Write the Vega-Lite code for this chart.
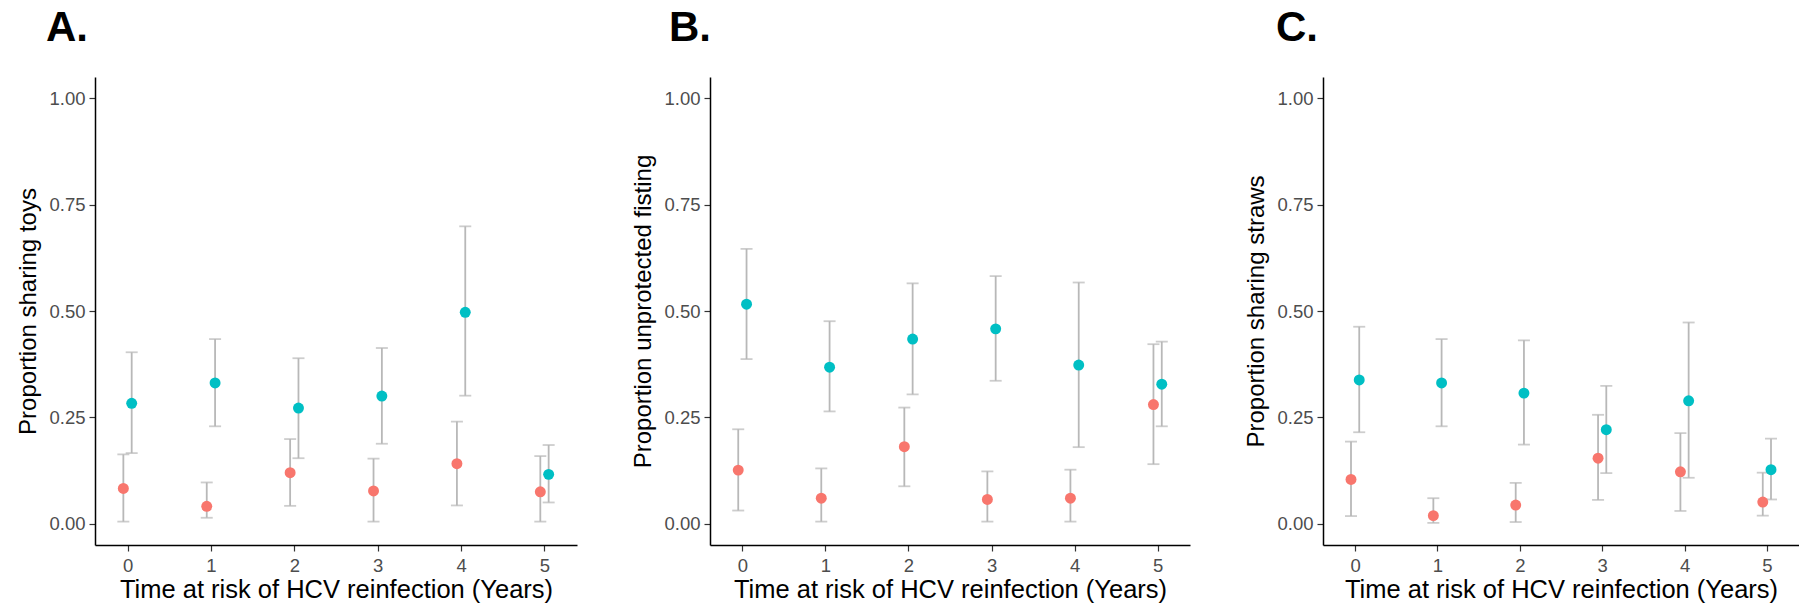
{
  "$schema": "https://vega.github.io/schema/vega-lite/v6.json",
  "background": "white",
  "padding": {"left": 16, "top": 7, "right": 0, "bottom": 0},
  "bounds": "flush",
  "spacing": 133,
  "datasets": {
    "pts": [
      {"panel": "A", "t": 0, "g": "Group 1", "p": 0.083, "lo": 0.005, "hi": 0.163},
      {"panel": "A", "t": 1, "g": "Group 1", "p": 0.041, "lo": 0.014, "hi": 0.097},
      {"panel": "A", "t": 2, "g": "Group 1", "p": 0.120, "lo": 0.042, "hi": 0.199},
      {"panel": "A", "t": 3, "g": "Group 1", "p": 0.077, "lo": 0.005, "hi": 0.153},
      {"panel": "A", "t": 4, "g": "Group 1", "p": 0.141, "lo": 0.043, "hi": 0.240},
      {"panel": "A", "t": 5, "g": "Group 1", "p": 0.075, "lo": 0.005, "hi": 0.159},
      {"panel": "A", "t": 0, "g": "Group 2", "p": 0.283, "lo": 0.166, "hi": 0.403},
      {"panel": "A", "t": 1, "g": "Group 2", "p": 0.331, "lo": 0.229, "hi": 0.434},
      {"panel": "A", "t": 2, "g": "Group 2", "p": 0.272, "lo": 0.154, "hi": 0.389},
      {"panel": "A", "t": 3, "g": "Group 2", "p": 0.300, "lo": 0.188, "hi": 0.413},
      {"panel": "A", "t": 4, "g": "Group 2", "p": 0.497, "lo": 0.301, "hi": 0.699},
      {"panel": "A", "t": 5, "g": "Group 2", "p": 0.116, "lo": 0.050, "hi": 0.185},
      {"panel": "B", "t": 0, "g": "Group 1", "p": 0.126, "lo": 0.031, "hi": 0.222},
      {"panel": "B", "t": 1, "g": "Group 1", "p": 0.060, "lo": 0.005, "hi": 0.130},
      {"panel": "B", "t": 2, "g": "Group 1", "p": 0.181, "lo": 0.088, "hi": 0.273},
      {"panel": "B", "t": 3, "g": "Group 1", "p": 0.057, "lo": 0.005, "hi": 0.123},
      {"panel": "B", "t": 4, "g": "Group 1", "p": 0.060, "lo": 0.005, "hi": 0.127},
      {"panel": "B", "t": 5, "g": "Group 1", "p": 0.280, "lo": 0.140, "hi": 0.422},
      {"panel": "B", "t": 0, "g": "Group 2", "p": 0.516, "lo": 0.387, "hi": 0.646},
      {"panel": "B", "t": 1, "g": "Group 2", "p": 0.368, "lo": 0.264, "hi": 0.476},
      {"panel": "B", "t": 2, "g": "Group 2", "p": 0.434, "lo": 0.304, "hi": 0.565},
      {"panel": "B", "t": 3, "g": "Group 2", "p": 0.458, "lo": 0.336, "hi": 0.582},
      {"panel": "B", "t": 4, "g": "Group 2", "p": 0.373, "lo": 0.180, "hi": 0.567},
      {"panel": "B", "t": 5, "g": "Group 2", "p": 0.328, "lo": 0.229, "hi": 0.428},
      {"panel": "C", "t": 0, "g": "Group 1", "p": 0.104, "lo": 0.018, "hi": 0.193},
      {"panel": "C", "t": 1, "g": "Group 1", "p": 0.019, "lo": 0.002, "hi": 0.060},
      {"panel": "C", "t": 2, "g": "Group 1", "p": 0.044, "lo": 0.004, "hi": 0.096},
      {"panel": "C", "t": 3, "g": "Group 1", "p": 0.154, "lo": 0.056, "hi": 0.256},
      {"panel": "C", "t": 4, "g": "Group 1", "p": 0.122, "lo": 0.030, "hi": 0.213},
      {"panel": "C", "t": 5, "g": "Group 1", "p": 0.051, "lo": 0.019, "hi": 0.120},
      {"panel": "C", "t": 0, "g": "Group 2", "p": 0.338, "lo": 0.215, "hi": 0.463},
      {"panel": "C", "t": 1, "g": "Group 2", "p": 0.331, "lo": 0.229, "hi": 0.434},
      {"panel": "C", "t": 2, "g": "Group 2", "p": 0.307, "lo": 0.186, "hi": 0.431},
      {"panel": "C", "t": 3, "g": "Group 2", "p": 0.221, "lo": 0.119, "hi": 0.324},
      {"panel": "C", "t": 4, "g": "Group 2", "p": 0.289, "lo": 0.108, "hi": 0.473},
      {"panel": "C", "t": 5, "g": "Group 2", "p": 0.127, "lo": 0.057, "hi": 0.200}
    ]
  },
  "hconcat": [
    {
      "width": 482, "height": 468,
      "title": {"text": "A.", "dx": -49},
      "data": {"name": "pts"},
      "transform": [
        {"filter": "datum.panel == 'A'"},
        {"calculate": "datum.t + (datum.g == 'Group 1' ? -0.05 : 0.05)", "as": "xd"}
      ],
      "encoding": {
        "x": {"field": "xd", "type": "quantitative", "scale": {"domain": [-0.39, 5.39], "nice": false, "zero": false},
              "axis": {"title": "Time at risk of HCV reinfection (Years)", "values": [0, 1, 2, 3, 4, 5], "format": "d"}},
        "color": {"field": "g", "type": "nominal", "scale": {"domain": ["Group 1", "Group 2"], "range": ["#F8766D", "#00BFC4"]}, "legend": null}
      },
      "layer": [
        {"mark": {"type": "rule", "color": "#b8b8b8", "strokeWidth": 1.8},
         "encoding": {"y": {"field": "lo", "type": "quantitative", "scale": {"domain": [-0.05, 1.05], "nice": false, "zero": false},
                            "axis": {"title": "Proportion sharing toys", "values": [0, 0.25, 0.5, 0.75, 1], "format": ".2f"}},
                      "y2": {"field": "hi"}, "color": {"value": "#b8b8b8"}}},
        {"mark": {"type": "tick", "orient": "horizontal", "size": 12, "thickness": 1.8, "color": "#b8b8b8"},
         "encoding": {"y": {"field": "lo", "type": "quantitative"}, "color": {"value": "#b8b8b8"}}},
        {"mark": {"type": "tick", "orient": "horizontal", "size": 12, "thickness": 1.8, "color": "#b8b8b8"},
         "encoding": {"y": {"field": "hi", "type": "quantitative"}, "color": {"value": "#b8b8b8"}}},
        {"mark": {"type": "circle", "size": 120, "opacity": 1},
         "encoding": {"y": {"field": "p", "type": "quantitative"}}}
      ]
    },
    {
      "width": 480, "height": 468,
      "title": {"text": "B.", "dx": -41},
      "data": {"name": "pts"},
      "transform": [
        {"filter": "datum.panel == 'B'"},
        {"calculate": "datum.t + (datum.g == 'Group 1' ? -0.05 : 0.05)", "as": "xd"}
      ],
      "encoding": {
        "x": {"field": "xd", "type": "quantitative", "scale": {"domain": [-0.39, 5.39], "nice": false, "zero": false},
              "axis": {"title": "Time at risk of HCV reinfection (Years)", "values": [0, 1, 2, 3, 4, 5], "format": "d"}},
        "color": {"field": "g", "type": "nominal", "scale": {"domain": ["Group 1", "Group 2"], "range": ["#F8766D", "#00BFC4"]}, "legend": null}
      },
      "layer": [
        {"mark": {"type": "rule", "color": "#b8b8b8", "strokeWidth": 1.8},
         "encoding": {"y": {"field": "lo", "type": "quantitative", "scale": {"domain": [-0.05, 1.05], "nice": false, "zero": false},
                            "axis": {"title": "Proportion unprotected fisting", "values": [0, 0.25, 0.5, 0.75, 1], "format": ".2f"}},
                      "y2": {"field": "hi"}, "color": {"value": "#b8b8b8"}}},
        {"mark": {"type": "tick", "orient": "horizontal", "size": 12, "thickness": 1.8, "color": "#b8b8b8"},
         "encoding": {"y": {"field": "lo", "type": "quantitative"}, "color": {"value": "#b8b8b8"}}},
        {"mark": {"type": "tick", "orient": "horizontal", "size": 12, "thickness": 1.8, "color": "#b8b8b8"},
         "encoding": {"y": {"field": "hi", "type": "quantitative"}, "color": {"value": "#b8b8b8"}}},
        {"mark": {"type": "circle", "size": 120, "opacity": 1},
         "encoding": {"y": {"field": "p", "type": "quantitative"}}}
      ]
    },
    {
      "width": 476, "height": 468,
      "title": {"text": "C.", "dx": -47},
      "data": {"name": "pts"},
      "transform": [
        {"filter": "datum.panel == 'C'"},
        {"calculate": "datum.t + (datum.g == 'Group 1' ? -0.05 : 0.05)", "as": "xd"}
      ],
      "encoding": {
        "x": {"field": "xd", "type": "quantitative", "scale": {"domain": [-0.39, 5.39], "nice": false, "zero": false},
              "axis": {"title": "Time at risk of HCV reinfection (Years)", "values": [0, 1, 2, 3, 4, 5], "format": "d"}},
        "color": {"field": "g", "type": "nominal", "scale": {"domain": ["Group 1", "Group 2"], "range": ["#F8766D", "#00BFC4"]}, "legend": null}
      },
      "layer": [
        {"mark": {"type": "rule", "color": "#b8b8b8", "strokeWidth": 1.8},
         "encoding": {"y": {"field": "lo", "type": "quantitative", "scale": {"domain": [-0.05, 1.05], "nice": false, "zero": false},
                            "axis": {"title": "Proportion sharing straws", "values": [0, 0.25, 0.5, 0.75, 1], "format": ".2f"}},
                      "y2": {"field": "hi"}, "color": {"value": "#b8b8b8"}}},
        {"mark": {"type": "tick", "orient": "horizontal", "size": 12, "thickness": 1.8, "color": "#b8b8b8"},
         "encoding": {"y": {"field": "lo", "type": "quantitative"}, "color": {"value": "#b8b8b8"}}},
        {"mark": {"type": "tick", "orient": "horizontal", "size": 12, "thickness": 1.8, "color": "#b8b8b8"},
         "encoding": {"y": {"field": "hi", "type": "quantitative"}, "color": {"value": "#b8b8b8"}}},
        {"mark": {"type": "circle", "size": 120, "opacity": 1},
         "encoding": {"y": {"field": "p", "type": "quantitative"}}}
      ]
    }
  ],
  "config": {
    "font": "Liberation Sans",
    "view": {"stroke": null},
    "title": {"anchor": "start", "frame": "group", "fontSize": 42, "fontWeight": "bold", "color": "black", "font": "Liberation Sans", "baseline": "alphabetic", "offset": 27},
    "axis": {
      "grid": false,
      "domainColor": "black", "domainWidth": 1.5,
      "tickColor": "#333333", "tickWidth": 1.2, "tickSize": 6,
      "labelColor": "#4d4d4d", "labelFontSize": 18.5, "labelPadding": 4,
      "titleColor": "black", "titleFontSize": 24, "titleFontWeight": "normal", "titlePadding": 6
    },
    "axisY": {"labelFlush": false, "titlePadding": 8},
    "axisX": {"labelFlush": false, "labelPadding": 5, "titlePadding": 3, "titleFontSize": 25.5}
  }
}
